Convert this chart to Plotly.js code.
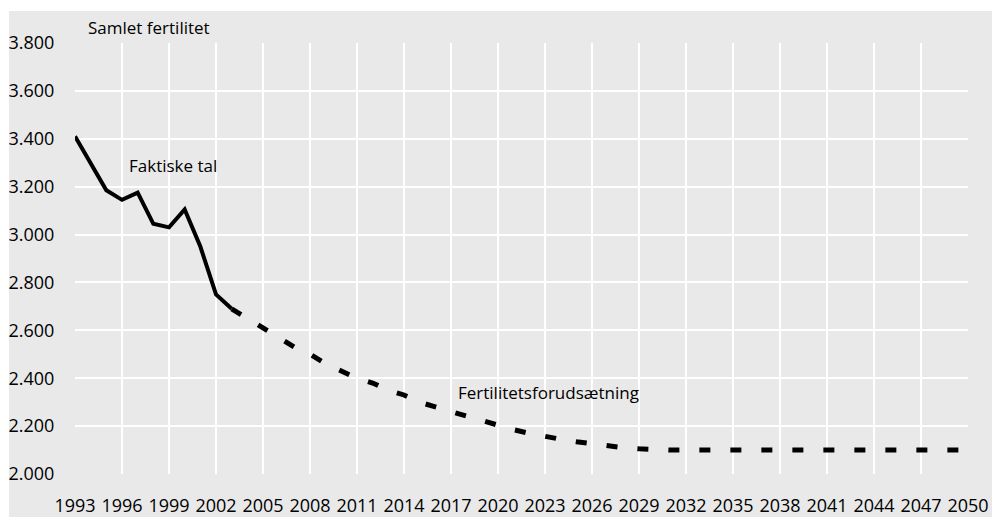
<!DOCTYPE html>
<html>
<head>
<meta charset="utf-8">
<script src="https://cdn.plot.ly/plotly-3.0.1.min.js"></script>
<style>html,body{margin:0;padding:0;background:#fff;}#chart{width:992px;height:517px;}</style>
</head>
<body>
<div id="chart"></div>
<script>
// Actual total fertility (per 1000 women)
const actualYears = [1993,1994,1995,1996,1997,1998,1999,2000,2001,2002,2003];
const actualValues = [3410,3300,3185,3145,3175,3045,3030,3105,2950,2750,2690];

// Fertility assumption (projection)
const projYears = [2003,2004,2005,2006,2007,2008,2009,2010,2011,2012,2013,2014,2015,2016,2017,2018,2019,2020,2021,2022,2023,2024,2025,2026,2027,2028,2029,2030,2031,2032,2033,2034,2035,2036,2037,2038,2039,2040,2041,2042,2043,2044,2045,2046,2047,2048,2049,2050];
const projValues = [2690,2650,2610,2570,2530,2500,2460,2430,2400,2380,2350,2330,2300,2280,2260,2240,2220,2200,2185,2170,2155,2145,2135,2125,2117,2110,2105,2100,2100,2100,2100,2100,2100,2100,2100,2100,2100,2100,2100,2100,2100,2100,2100,2100,2100,2100,2100,2100];

const xTicks = [1993,1996,1999,2002,2005,2008,2011,2014,2017,2020,2023,2026,2029,2032,2035,2038,2041,2044,2047,2050];
const yTicks = [2000,2200,2400,2600,2800,3000,3200,3400,3600,3800];

const yLabel = 'Samlet fertilitet';
const actualLabel = 'Faktiske tal';
const projLabel = 'Fertilitetsforudsætning';

const font = 'Open Sans, Noto Sans, sans-serif';

const traces = [
  {x: projYears, y: projValues, mode: 'lines', line: {color: '#000', width: 5, dash: '11px,20px'}, hoverinfo: 'x+y', name: projLabel},
  {x: actualYears, y: actualValues, mode: 'lines', line: {color: '#000', width: 4}, hoverinfo: 'x+y', name: actualLabel}
];

const W = 992, H = 517, L = 75, R = 24, T = 43, B = 43;
const pw = W - L - R, ph = H - T - B;

const layout = {
  width: W, height: H,
  margin: {l: L, r: R, t: T, b: B, pad: 0},
  paper_bgcolor: '#ffffff',
  plot_bgcolor: '#dcdcdc',
  showlegend: false,
  separators: ',.',
  font: {family: font, size: 17, color: '#000'},
  xaxis: {
    range: [1993, 2050], tickvals: xTicks, ticktext: xTicks.map(String),
    showgrid: true, gridcolor: '#ffffff', gridwidth: 2, zeroline: false, showline: false,
    ticks: 'outside', ticklen: 15, tickcolor: 'rgba(0,0,0,0)',
    tickfont: {family: font, size: 18, color: '#000'}, fixedrange: true
  },
  yaxis: {
    range: [2000, 3800], tickvals: yTicks, tickformat: ',d',
    showgrid: true, gridcolor: '#ffffff', gridwidth: 2, zeroline: false, showline: false,
    ticks: 'outside', ticklen: 16, tickcolor: 'rgba(0,0,0,0)',
    tickfont: {family: font, size: 18, color: '#000'}, fixedrange: true
  },
  shapes: [{
    type: 'rect', xref: 'paper', yref: 'paper', layer: 'below',
    x0: (9 - L) / pw, x1: (W - L) / pw, y0: -(B) / ph, y1: (H - B - 11) / ph,
    fillcolor: '#e9e9e9', line: {width: 0}
  }],
  annotations: [
    {xref: 'paper', yref: 'paper', x: 11 / pw, y: (H - B - 27) / ph, text: yLabel, showarrow: false, xanchor: 'left', yanchor: 'middle', font: {family: font, size: 17, color: '#000'}},
    {x: 1996.3, y: 3287, text: actualLabel, showarrow: false, xanchor: 'left', yanchor: 'middle', font: {family: font, size: 17, color: '#000'}},
    {x: 2017.3, y: 2342, text: projLabel, showarrow: false, xanchor: 'left', yanchor: 'middle', font: {family: font, size: 17, color: '#000'}}
  ]
};

Plotly.newPlot('chart', traces, layout, {displayModeBar: false, staticPlot: true});
</script>
</body>
</html>
